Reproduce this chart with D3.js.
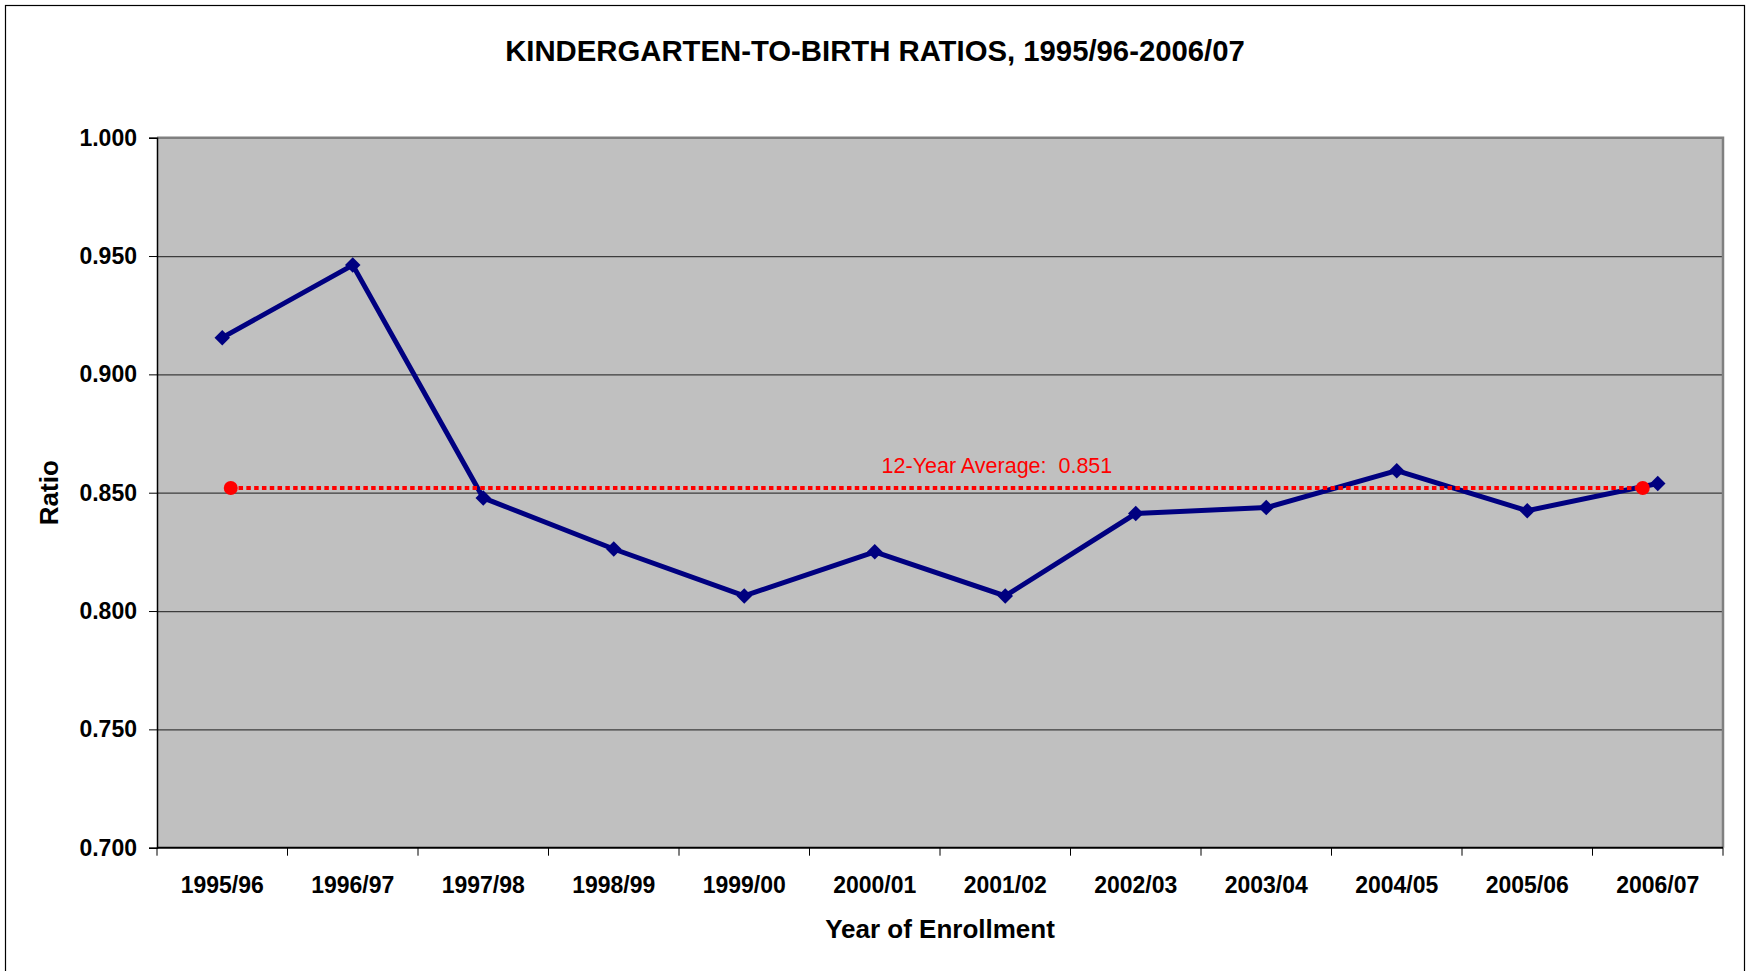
<!doctype html>
<html>

<head>
  <script src="https://cdnjs.cloudflare.com/ajax/libs/d3/7.8.5/d3.min.js" type="text/JavaScript"></script>
  <style>
    body { margin: 0; background: #fff; }
    svg { display: block; font-family: "Liberation Sans", Arial, sans-serif; }
  </style>
</head>

<body>
  <svg id="chart" width="1748" height="971"></svg>
  <script>
    // chart data
    var years = ["1995/96", "1996/97", "1997/98", "1998/99", "1999/00", "2000/01",
      "2001/02", "2002/03", "2003/04", "2004/05", "2005/06", "2006/07"];
    var ratios = [0.9155, 0.9462, 0.8478, 0.8262, 0.8064, 0.8250,
      0.8064, 0.8412, 0.8437, 0.8593, 0.8424, 0.8539];
    var avgLine = [0.852, 0.852];
    var avgLabel = "12-Year Average:  0.851";
    var yTicks = [0.700, 0.750, 0.800, 0.850, 0.900, 0.950, 1.000];

    var svg = d3.select("#chart");
    var plotLeft = 157, plotRight = 1723, plotTop = 137.7, plotBottom = 847.7;

    // outer frame
    svg.append("rect")
      .attr("x", 5.5).attr("y", 5.5)
      .attr("width", 1739).attr("height", 1000)
      .attr("fill", "none").attr("stroke", "#000").attr("stroke-width", 1.2);

    var x = d3.scaleBand().domain(years).range([plotLeft, plotRight]).padding(0);
    var y = d3.scaleLinear().domain([0.7, 1.0]).range([plotBottom, plotTop]);
    var cx = d => x(d) + x.bandwidth() / 2;

    // plot area
    svg.append("rect")
      .attr("x", plotLeft).attr("y", plotTop)
      .attr("width", plotRight - plotLeft).attr("height", plotBottom - plotTop)
      .attr("fill", "#c0c0c0");

    // gridlines
    svg.append("g")
      .attr("transform", `translate(${plotLeft},0)`)
      .call(d3.axisLeft(y).tickValues(yTicks.slice(1, -1)).tickSize(-(plotRight - plotLeft)).tickFormat(""))
      .call(g => g.select(".domain").remove())
      .selectAll("line").attr("stroke", "#3c3c3c").attr("stroke-width", 1.2);

    // top and right border
    svg.append("path")
      .attr("d", `M${plotLeft},${plotTop}H${plotRight}V${plotBottom}`)
      .attr("fill", "none").attr("stroke", "#808080").attr("stroke-width", 2.5);

    // y axis
    var yAxis = svg.append("g")
      .attr("transform", `translate(${plotLeft},0)`)
      .call(d3.axisLeft(y).tickValues(yTicks).tickFormat(d3.format(".3f")).tickSize(8).tickPadding(12));
    yAxis.select(".domain").attr("stroke", "#000").attr("stroke-width", 1.5);
    yAxis.selectAll("line").attr("stroke", "#000");
    yAxis.selectAll("text")
      .attr("font-size", 23).attr("font-weight", "bold").attr("fill", "#000")
      .attr("font-family", "Liberation Sans, Arial, sans-serif");

    // x axis: ticks at the band edges, labels at band centres
    var xAxis = svg.append("g").attr("transform", `translate(0,${plotBottom})`);
    xAxis.append("line")
      .attr("x1", plotLeft).attr("x2", plotRight)
      .attr("stroke", "#000").attr("stroke-width", 2);
    var edges = years.map(d => x(d)).concat([x(years[years.length - 1]) + x.bandwidth()]);
    xAxis.selectAll("line.tick")
      .data(edges)
      .enter()
      .append("line")
      .attr("class", "tick")
      .attr("x1", d => d).attr("x2", d => d)
      .attr("y1", 0).attr("y2", 8)
      .attr("stroke", "#000").attr("stroke-width", 1);
    xAxis.selectAll("text")
      .data(years)
      .enter()
      .append("text")
      .attr("x", d => cx(d))
      .attr("y", 45)
      .attr("text-anchor", "middle")
      .attr("font-size", 23).attr("font-weight", "bold")
      .text(d => d);

    // ratio series
    svg.append("path")
      .datum(ratios)
      .attr("d", d3.line().x((d, i) => cx(years[i])).y(d => y(d)))
      .attr("fill", "none")
      .attr("stroke", "#000080")
      .attr("stroke-width", 5)
      .attr("stroke-linejoin", "miter");
    svg.selectAll("path.marker")
      .data(ratios)
      .enter()
      .append("path")
      .attr("class", "marker")
      .attr("d", d3.symbol(d3.symbolSquare, 120))
      .attr("transform", (d, i) => `translate(${cx(years[i])},${y(d)}) rotate(45)`)
      .attr("fill", "#000080");

    // average line, drawn on its own slightly inset scale, over the series
    var avgX = d3.scaleLinear().domain([0, 1])
      .range([cx(years[0]) + 8.5, cx(years[years.length - 1]) - 15]);
    var avgStep = (avgX(1) - avgX(0)) / (years.length - 1);
    svg.append("path")
      .datum(avgLine)
      .attr("d", d3.line().x((d, i) => avgX(i)).y(d => y(d)))
      .attr("fill", "none")
      .attr("stroke", "#ff0000")
      .attr("stroke-width", 4)
      .attr("stroke-dasharray", "4.5,3.3");
    svg.selectAll("circle.avg")
      .data(avgLine)
      .enter()
      .append("circle")
      .attr("class", "avg")
      .attr("cx", (d, i) => avgX(i))
      .attr("cy", d => y(d))
      .attr("r", 7)
      .attr("fill", "#ff0000");
    svg.append("text")
      .attr("x", avgX(0) + avgStep * 6 - 4)
      .attr("y", y(avgLine[0]) - 15)
      .attr("text-anchor", "middle")
      .attr("font-size", 21.5)
      .attr("fill", "#ff0000")
      .style("white-space", "pre")
      .text(avgLabel);

    // titles
    svg.append("text")
      .attr("x", 875).attr("y", 61)
      .attr("text-anchor", "middle")
      .attr("font-size", 29.3).attr("font-weight", "bold")
      .text("KINDERGARTEN-TO-BIRTH RATIOS, 1995/96-2006/07");
    svg.append("text")
      .attr("x", (plotLeft + plotRight) / 2).attr("y", 938)
      .attr("text-anchor", "middle")
      .attr("font-size", 26).attr("font-weight", "bold")
      .text("Year of Enrollment");
    svg.append("text")
      .attr("transform", `translate(58,${(plotTop + plotBottom) / 2}) rotate(-90)`)
      .attr("text-anchor", "middle")
      .attr("font-size", 26).attr("font-weight", "bold")
      .text("Ratio");
  </script>
</body>

</html>
